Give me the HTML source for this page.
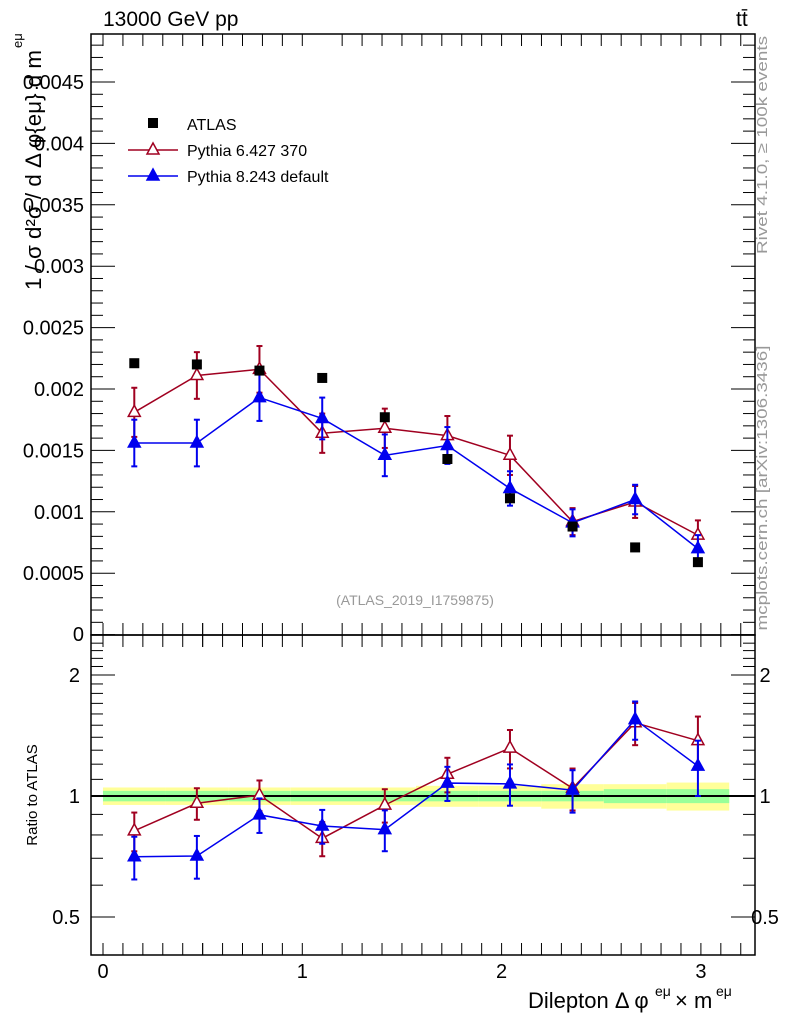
<!DOCTYPE html>
<html><head><meta charset="utf-8"><style>
body{margin:0;background:#fff}
svg{display:block;font-family:"Liberation Sans",sans-serif}
</style></head><body>
<svg id="c" width="786" height="1024"></svg>
<script>
const xCenters=[0.157,0.471,0.785,1.100,1.414,1.728,2.042,2.356,2.670,2.985];
const atlasVals=[0.00221,0.00220,0.00215,0.00209,0.00177,0.00143,0.00111,0.00088,0.00071,0.00059];
const py6Vals=[0.00181,0.00211,0.00216,0.00164,0.00168,0.00162,0.00146,0.00092,0.00108,0.00081];
const py6Err=[0.00020,0.00019,0.00019,0.00016,0.00016,0.00016,0.00016,0.00011,0.00013,0.00012];
const py8Vals=[0.00156,0.00156,0.00193,0.00176,0.00146,0.00154,0.00119,0.00091,0.00110,0.00070];
const py8Err=[0.00019,0.00019,0.00019,0.00017,0.00017,0.00015,0.00014,0.00011,0.00012,0.00011];
const bandGreen=[0.03,0.03,0.03,0.03,0.03,0.03,0.03,0.03,0.04,0.04];
const bandYellow=[0.05,0.05,0.05,0.05,0.05,0.06,0.06,0.07,0.07,0.08];
const yTicks=[0.0005,0.001,0.0015,0.002,0.0025,0.003,0.0035,0.004,0.0045];
const yTickLabels=["0.0005","0.001","0.0015","0.002","0.0025","0.003","0.0035","0.004","0.0045"];
const rTicks=[0.5,1,2];
const xTicks=[0,1,2,3];
const binW=Math.PI/10;

const L=91,R=755,T=34,MB=635,RB=955;
const X=v=>103+v*199.3;
const Y=v=>634.6-v/0.0005*61.4;
const RY=v=>796-Math.log2(v)*121;
const svg=document.getElementById('c');
const NS='http://www.w3.org/2000/svg';
function mk(tag,a,parent){const e=document.createElementNS(NS,tag);for(const k in a)e.setAttribute(k,a[k]);(parent||svg).appendChild(e);return e;}
function txt(s,a){const e=mk('text',a);e.textContent=s;return e;}

for(let i=0;i<xCenters.length;i++){
 const x0=X(xCenters[i]-binW/2),x1=X(xCenters[i]+binW/2);
 const y=mk('rect',{x:x0,y:RY(1+bandYellow[i]),width:x1-x0,height:RY(1-bandYellow[i])-RY(1+bandYellow[i]),fill:'#ffff99'});
 
 
 const g=mk('rect',{x:x0,y:RY(1+bandGreen[i]),width:x1-x0,height:RY(1-bandGreen[i])-RY(1+bandGreen[i]),fill:'#99ff99'});
 
 
}
mk('line',{x1:L,x2:R,y1:RY(1),y2:RY(1),stroke:'#000','stroke-width':2});

for(const [t,b,n] of [[T,MB,'main-frame'],[MB,RB,'ratio-frame']]){
 const f=mk('rect',{x:L,y:t,width:R-L,height:b-t,fill:'none',stroke:'#000','stroke-width':1.5});
 
}
for(let v=0;v<=0.0048;v+=0.0001){
 const y=Y(v);if(y<T||y>MB)continue;
 const major=Math.abs(v/0.0005-Math.round(v/0.0005))<1e-6;
 const l=major?24:12;
 mk('line',{x1:L,x2:L+l,y1:y,y2:y,stroke:'#000'});
 mk('line',{x1:R,x2:R-l,y1:y,y2:y,stroke:'#000'});
}
yTicks.forEach((v,i)=>{const t=txt(yTickLabels[i],{x:84,y:Y(v)+7,'text-anchor':'end','font-size':20});
 });
txt('0',{x:84,y:641,'text-anchor':'end','font-size':20});
for(let v=0.4;v<=2.5;v+=0.1){const y=RY(v);if(y<MB||y>RB)continue;
 mk('line',{x1:L,x2:L+12,y1:y,y2:y,stroke:'#000'});mk('line',{x1:R,x2:R-12,y1:y,y2:y,stroke:'#000'});}
rTicks.forEach(v=>{const y=RY(v);
 mk('line',{x1:L,x2:L+24,y1:y,y2:y,stroke:'#000'});mk('line',{x1:R,x2:R-24,y1:y,y2:y,stroke:'#000'});
 const s=String(v);
 const a=txt(s,{x:80,y:y+7,'text-anchor':'end','font-size':20});
 txt(s,{x:765,y:y+7,'text-anchor':'middle','font-size':20});
});
for(let v=-0.05;v<=3.27;v+=0.1){const x=X(Math.round(v*10)/10);if(x<L||x>R)continue;
 const major=Math.abs(v-Math.round(v))<1e-6&&Math.round(v*10)%10==0;
 [[MB,-1],[T,1],[RB,-1],[MB,1]].forEach(([b,d])=>mk('line',{x1:x,x2:x,y1:b,y2:b+d*(major?24:12),stroke:'#000'}));}
xTicks.forEach(v=>{const t=txt(String(v),{x:X(v),y:978,'text-anchor':'middle','font-size':20});
 });

function series(vals,err,color,open,name,ratio){
 const yf=ratio?(i=>RY(vals[i]/atlasVals[i])):(i=>Y(vals[i]));
 const ye=ratio?((i,s)=>RY((vals[i]+s*err[i])/atlasVals[i])):((i,s)=>Y(vals[i]+s*err[i]));
 const pts=xCenters.map((x,i)=>X(x)+','+yf(i)).join(' ');
 const pl=mk('polyline',{points:pts,fill:'none',stroke:color,'stroke-width':1.5});
 
 xCenters.forEach((x,i)=>{const cx=X(x),cy=yf(i),y1=ye(i,1),y2=ye(i,-1);
  mk('line',{x1:cx,x2:cx,y1:y1,y2:y2,stroke:color,'stroke-width':2});
  mk('line',{x1:cx-3,x2:cx+3,y1:y1,y2:y1,stroke:color,'stroke-width':2});
  mk('line',{x1:cx-3,x2:cx+3,y1:y2,y2:y2,stroke:color,'stroke-width':2});
  const p=mk('polygon',{points:`${cx-6},${cy+4} ${cx+6},${cy+4} ${cx},${cy-7}`,fill:open?'#fff':color,stroke:color,'stroke-width':1.5});
  
 });
}
series(py6Vals,py6Err,'#a00020',true,'pythia6',false);
series(py8Vals,py8Err,'#0000ee',false,'pythia8',false);
series(py6Vals,py6Err,'#a00020',true,'pythia6-ratio',true);
series(py8Vals,py8Err,'#0000ee',false,'pythia8-ratio',true);
xCenters.forEach((x,i)=>{const r=mk('rect',{x:X(x)-5,y:Y(atlasVals[i])-5,width:10,height:10,fill:'#000'});
 });

const lg=mk('g',{});
mk('rect',{x:148,y:118,width:10,height:10,fill:'#000'},lg);
txt('ATLAS',{x:187,y:130,'font-size':16});
mk('line',{x1:128,x2:178,y1:150,y2:150,stroke:'#a00020','stroke-width':1.5},lg);
mk('polygon',{points:'147,154 159,154 153,143',fill:'#fff',stroke:'#a00020','stroke-width':1.5},lg);
txt('Pythia 6.427 370',{x:187,y:156,'font-size':16});
mk('line',{x1:128,x2:178,y1:176,y2:176,stroke:'#0000ee','stroke-width':1.5},lg);
mk('polygon',{points:'147,180 159,180 153,169',fill:'#0000ee',stroke:'#0000ee','stroke-width':1.5},lg);
txt('Pythia 8.243 default',{x:187,y:182,'font-size':16});

txt('13000 GeV pp',{x:103,y:26,'font-size':21});
txt('tt̄',{x:736,y:26,'font-size':21});
txt('(ATLAS_2019_I1759875)',{x:415,y:605,'text-anchor':'middle','font-size':14,fill:'#999'});
const yl=txt('1 / σ  d²σ / d Δ φ{eμ} d m',{x:0,y:0,'font-size':22,textLength:240,lengthAdjust:'spacingAndGlyphs',transform:'translate(41,290) rotate(-90)'});

txt('eμ',{x:0,y:0,'font-size':13,transform:'translate(22,48) rotate(-90)'});
const rl=txt('Ratio to ATLAS',{x:0,y:0,'font-size':15,'text-anchor':'middle',transform:'translate(37,795) rotate(-90)'});

const xl=txt('Dilepton Δ φ',{x:528,y:1008,'font-size':22});
txt('eμ',{x:655,y:996,'font-size':14});
txt('× m',{x:675,y:1008,'font-size':22});
txt('eμ',{x:716,y:996,'font-size':14});
txt('Rivet 4.1.0, ≥ 100k events',{x:0,y:0,'font-size':15,fill:'#999','text-anchor':'middle',textLength:218,lengthAdjust:'spacingAndGlyphs',transform:'translate(767,145) rotate(-90)'});
txt('mcplots.cern.ch [arXiv:1306.3436]',{x:0,y:0,'font-size':15,fill:'#999','text-anchor':'middle',textLength:285,lengthAdjust:'spacingAndGlyphs',transform:'translate(767,488) rotate(-90)'});
</script>
</body></html>
